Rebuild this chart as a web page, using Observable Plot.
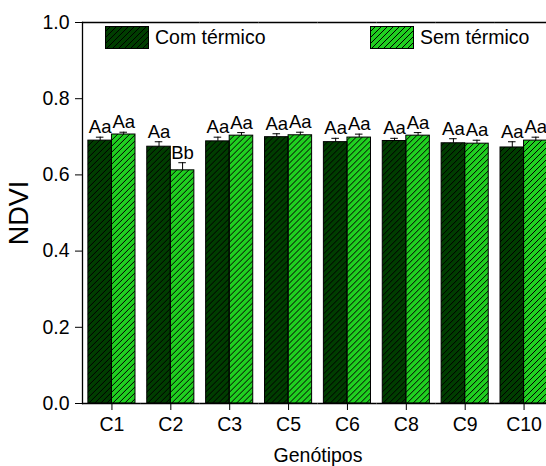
<!DOCTYPE html>
<html><head><meta charset="utf-8">
<script src="https://cdn.jsdelivr.net/npm/d3@7"></script>
<script src="https://cdn.jsdelivr.net/npm/@observablehq/plot@0.6"></script>
<style>
body{margin:0;background:#fff;font-family:Arial,"Liberation Sans",sans-serif;overflow:hidden;}
#wrap{position:relative;width:546px;height:466px;overflow:hidden;}
#wrap > svg{position:absolute;left:0;top:0;max-width:none !important;width:553px !important;height:466px !important;}
.legend{position:absolute;display:flex;align-items:center;font-size:19.5px;color:#000;line-height:1;}
.legend svg{margin-right:6px;display:block;}
</style></head><body><div id="wrap"></div>
<script>
const genotypes = ["C1","C2","C3","C5","C6","C8","C9","C10"];
const series = ["Com térmico","Sem térmico"];
const comTermico = [0.690,0.674,0.688,0.699,0.686,0.689,0.683,0.672];
const comErr     = [0.009,0.013,0.011,0.009,0.010,0.007,0.012,0.015];
const semTermico = [0.706,0.612,0.703,0.704,0.698,0.703,0.682,0.690];
const semErr     = [0.006,0.020,0.008,0.008,0.009,0.008,0.009,0.009];
const comLabels  = ["Aa","Aa","Aa","Aa","Aa","Aa","Aa","Aa"];
const semLabels  = ["Aa","Bb","Aa","Aa","Aa","Aa","Aa","Aa"];
const colors = ["#003d00","#20cf20"];
const yTicks = [0,0.2,0.4,0.6,0.8,1.0];

const data = genotypes.flatMap((g,i)=>[
  {g, s:series[0], v:comTermico[i], e:comErr[i], lab:comLabels[i]},
  {g, s:series[1], v:semTermico[i], e:semErr[i], lab:semLabels[i]}
]);

// the original plot frame runs past the right edge of the picture; the SVG is clipped by #wrap
const W = 553, marginLeft = 82, padIn = 0.2, padOut = 0.1;
// facet panels start one outer padding to the right of the frame edge; shift the axis/lines back
const axisShift = -padOut * (W - marginLeft) / (genotypes.length - padIn + 2 * padOut);

const chart = Plot.plot({
  width: W, height: 466,
  marginLeft, marginRight: 0, marginTop: 22, marginBottom: 63,
  style: {fontFamily: "Arial, 'Liberation Sans', sans-serif", fontSize: "19px", color: "#000", background: "#fff"},
  fx: {domain: genotypes, paddingInner: padIn, paddingOuter: padOut, round: false, label: "Genótipos"},
  x: {domain: series, padding: 0, round: false, axis: null},
  y: {domain: [0, 1]},
  color: {domain: series, range: colors},
  marks: [
    Plot.barY(data, {fx: "g", x: "s", y: "v", fill: "s"}),
    Plot.barY(data, {fx: "g", x: "s", y: "v", fill: "url(#hatch)", stroke: "#000", strokeWidth: 1}),
    Plot.ruleX(data, {fx: "g", x: "s", y1: "v", y2: d => d.v + d.e, stroke: "#000"}),
    Plot.tickY(data, {fx: "g", x: "s", y: d => d.v + d.e, insetLeft: 8, insetRight: 8, stroke: "#000"}),
    Plot.text(data, {fx: "g", x: "s", y: d => d.v + d.e, text: "lab", dy: -4, lineAnchor: "bottom", fontSize: 18.5, fill: "#000"}),
    Plot.axisFx({anchor: "bottom", tickSize: 7, tickPadding: 7, fontSize: 19.5, label: "Genótipos", labelAnchor: "center", labelOffset: 58}),
    Plot.axisY({ticks: yTicks, tickFormat: d3.format(".1f"), tickSize: 7, tickPadding: 6, fontSize: 19.5, label: null, dx: axisShift}),
    Plot.axisY({ticks: [], tickSize: 0, label: "NDVI", labelAnchor: "center", labelArrow: "none", labelOffset: 80, fontSize: 27, dx: axisShift}),
    Plot.ruleY([0, 1], {insetLeft: axisShift, insetRight: axisShift, stroke: "#000", strokeWidth: 1.3}),
    Plot.frame({anchor: "left", facetAnchor: "left", dx: axisShift, stroke: "#000", strokeWidth: 1.3})
  ]
});

const defs = d3.select(chart).insert("defs", ":first-child");
defs.append("pattern").attr("id", "hatch").attr("patternUnits", "userSpaceOnUse")
  .attr("width", 6).attr("height", 6)
  .append("path").attr("d", "M-1,1 l2,-2 M0,6 l6,-6 M5,7 l2,-2")
  .attr("stroke", "#000").attr("stroke-width", 1).attr("shape-rendering", "crispEdges");

const wrap = document.getElementById("wrap");
wrap.appendChild(chart);

function swatch(color){
  return `<svg width="44" height="23"><defs><pattern id="h${color.slice(1)}" patternUnits="userSpaceOnUse" width="6" height="6"><path d="M-1,1 l2,-2 M0,6 l6,-6 M5,7 l2,-2" stroke="#000" stroke-width="1" shape-rendering="crispEdges"/></pattern></defs><rect x="0.5" y="0.5" width="43" height="22" fill="${color}" stroke="#000"/><rect x="0.5" y="0.5" width="43" height="22" fill="url(#h${color.slice(1)})" stroke="#000"/></svg>`;
}
const legendPos = [[105, 26], [370, 26]];
series.forEach((s, i) => {
  const d = document.createElement("div");
  d.className = "legend";
  d.style.left = legendPos[i][0] + "px";
  d.style.top = legendPos[i][1] + "px";
  d.innerHTML = swatch(colors[i]) + `<span>${s}</span>`;
  wrap.appendChild(d);
});
</script></body></html>
